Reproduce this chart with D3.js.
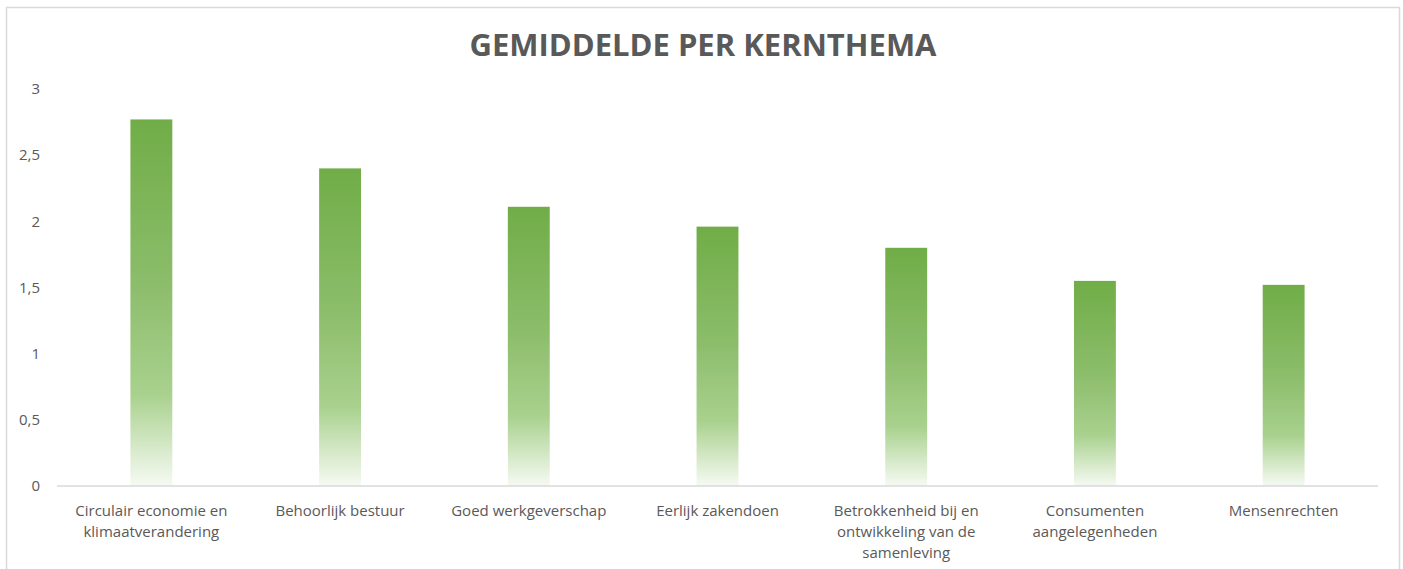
<!DOCTYPE html>
<html>
<head>
<meta charset="utf-8">
<script src="https://cdn.jsdelivr.net/npm/d3@7"></script>
<style>
  body { margin: 0; background: #fff; }
  text { font-family: "Open Sans", sans-serif; fill: #595959; }
</style>
</head>
<body>
<script>
const categories = [
  "Circulair economie en klimaatverandering",
  "Behoorlijk bestuur",
  "Goed werkgeverschap",
  "Eerlijk zakendoen",
  "Betrokkenheid bij en ontwikkeling van de samenleving",
  "Consumenten aangelegenheden",
  "Mensenrechten"
];
const labelLines = [
  ["Circulair economie en", "klimaatverandering"],
  ["Behoorlijk bestuur"],
  ["Goed werkgeverschap"],
  ["Eerlijk zakendoen"],
  ["Betrokkenheid bij en", "ontwikkeling van de", "samenleving"],
  ["Consumenten", "aangelegenheden"],
  ["Mensenrechten"]
];
const values = [2.77, 2.40, 2.11, 1.96, 1.80, 1.55, 1.52];
const yTicks = [0, 0.5, 1, 1.5, 2, 2.5, 3];
const yTickLabels = ["0", "0,5", "1", "1,5", "2", "2,5", "3"];

const WIDTH = 1403;
const HEIGHT = 569;
const MARGIN = { top: 89, bottom: 83, left: 57, right: 25 };

const svg = d3.select('body')
  .append('svg')
  .attr('width', WIDTH)
  .attr('height', HEIGHT);

// chart border
svg.append('rect')
  .attr('x', 6.5).attr('y', 7.5)
  .attr('width', 1393).attr('height', 620)
  .attr('fill', 'none')
  .attr('stroke', '#d9d9d9')
  .attr('stroke-width', 1.5);

// gradient
const grad = svg.append('defs')
  .append('linearGradient')
  .attr('id', 'barGrad')
  .attr('x1', 0).attr('y1', 0).attr('x2', 0).attr('y2', 1);
grad.append('stop').attr('offset', '0%').attr('stop-color', '#70ad47');
grad.append('stop').attr('offset', '45%').attr('stop-color', '#8cbd6b');
grad.append('stop').attr('offset', '75%').attr('stop-color', '#a9d18e');
grad.append('stop').attr('offset', '100%').attr('stop-color', '#f6faf3');

// title
svg.append('text')
  .attr('x', 703)
  .attr('y', 56)
  .attr('text-anchor', 'middle')
  .attr('font-size', '31px')
  .attr('font-weight', 'bold')
  .text('GEMIDDELDE PER KERNTHEMA');

const x = d3.scaleBand()
  .domain(categories)
  .range([MARGIN.left, WIDTH - MARGIN.right])
  .paddingInner(0.778)
  .paddingOuter(0.389);

const y = d3.scaleLinear()
  .domain([0, 3])
  .range([HEIGHT - MARGIN.bottom, MARGIN.top]);

// y axis labels
const yAxis = d3.axisLeft(y)
  .tickValues(yTicks)
  .tickFormat((d, i) => yTickLabels[i])
  .tickSize(0)
  .tickPadding(0);

svg.append('g')
  .attr('transform', 'translate(40,0)')
  .call(yAxis)
  .call(g => g.select('.domain').remove())
  .call(g => g.selectAll('text')
    .attr('font-size', '15px')
    .attr('fill', '#595959')
    .style('font-family', '"Open Sans", sans-serif'));

// bars
svg.append('g')
  .selectAll('rect')
  .data(values)
  .enter()
  .append('rect')
  .attr('x', (d, i) => x(categories[i]))
  .attr('y', d => y(d))
  .attr('width', x.bandwidth())
  .attr('height', d => y(0) - y(d))
  .attr('fill', 'url(#barGrad)');

// x axis line
svg.append('line')
  .attr('x1', MARGIN.left)
  .attr('x2', WIDTH - MARGIN.right)
  .attr('y1', y(0))
  .attr('y2', y(0))
  .attr('stroke', '#d9d9d9')
  .attr('stroke-width', 1.5);

// x labels
const xl = svg.append('g')
  .selectAll('text')
  .data(labelLines)
  .enter()
  .append('text')
  .attr('text-anchor', 'middle')
  .attr('font-size', '15px')
  .attr('transform', (d, i) => 'translate(' + (x(categories[i]) + x.bandwidth() / 2) + ',' + (y(0) + 30) + ')');

xl.selectAll('tspan')
  .data(d => d)
  .enter()
  .append('tspan')
  .attr('x', 0)
  .attr('dy', (d, i) => i === 0 ? 0 : 21)
  .text(d => d);
</script>
</body>
</html>
